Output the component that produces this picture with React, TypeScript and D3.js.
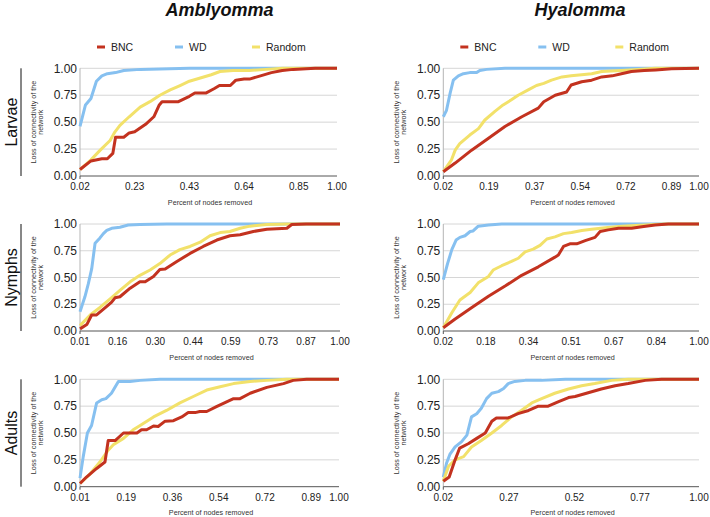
import * as d3 from 'd3';

// colours of the three removal strategies
const BNC_COLOR = '#c3321f';
const WD_COLOR = '#86c0f0';
const RANDOM_COLOR = '#f2e16a';

const SPECIES = ['Amblyomma', 'Hyalomma'];
const STAGES = ['Larvae', 'Nymphs', 'Adults'];
const LEGEND = ['BNC', 'WD', 'Random'];
const Y_TICKS = [0, 0.25, 0.5, 0.75, 1];

// x is the removal step (category index), pairs are [step, loss of connectivity]
type Pt = [number, number];

// Amblyomma larvae
const AMB_LARVAE_N = 48;
const AMB_LARVAE_TICKS = ['0.02', '0.23', '0.43', '0.64', '0.85', '1.00'];
const AMB_LARVAE_BNC: Pt[] = [[0, 0.06], [2, 0.14], [4, 0.16], [5, 0.16], [6, 0.21], [6.5, 0.36], [8, 0.36], [9, 0.4], [10, 0.41], [12, 0.48], [13.5, 0.55], [14.5, 0.66], [15, 0.69], [18, 0.69], [20, 0.74], [21, 0.77], [23, 0.77], [24.5, 0.81], [25.5, 0.84], [27.5, 0.84], [28.5, 0.89], [30, 0.9], [31, 0.9], [33, 0.93], [35, 0.96], [37, 0.98], [39, 0.99], [43, 1], [47, 1]];
const AMB_LARVAE_WD: Pt[] = [[0, 0.46], [1, 0.66], [2, 0.72], [3, 0.88], [4, 0.93], [5, 0.95], [6.5, 0.96], [8, 0.98], [11, 0.99], [20, 1], [47, 1]];
const AMB_LARVAE_RANDOM: Pt[] = [[0, 0.06], [2, 0.15], [3.7, 0.24], [5.5, 0.33], [6.4, 0.41], [7.3, 0.47], [9, 0.55], [11, 0.64], [12.8, 0.69], [14.6, 0.75], [16.5, 0.8], [18.3, 0.84], [20, 0.88], [22, 0.91], [24, 0.94], [25.6, 0.97], [28, 0.98], [31, 0.98], [34, 0.99], [37, 1], [47, 1]];

// Hyalomma larvae
const HYA_LARVAE_N = 57;
const HYA_LARVAE_TICKS = ['0.02', '0.19', '0.37', '0.54', '0.72', '0.89', '1.00'];
const HYA_LARVAE_BNC: Pt[] = [[0, 0.04], [2.6, 0.12], [6.2, 0.24], [9.9, 0.35], [13.5, 0.46], [17.2, 0.55], [20.8, 0.63], [22, 0.69], [24.5, 0.75], [27, 0.78], [28, 0.845], [30.3, 0.875], [32.5, 0.89], [34.7, 0.92], [37, 0.93], [39, 0.95], [41.2, 0.97], [44, 0.98], [46.5, 0.985], [50, 0.995], [56, 1]];
const HYA_LARVAE_WD: Pt[] = [[0, 0.55], [0.7, 0.61], [1.5, 0.77], [2.2, 0.89], [3.3, 0.93], [4.4, 0.95], [5.8, 0.96], [7.3, 0.96], [8, 0.98], [9.5, 0.99], [13.5, 1], [56, 1]];
const HYA_LARVAE_RANDOM: Pt[] = [[0, 0.04], [1.8, 0.15], [2.6, 0.24], [3.6, 0.3], [5.8, 0.38], [7.7, 0.44], [9.1, 0.52], [11.3, 0.6], [13.1, 0.66], [15, 0.71], [16.4, 0.75], [18.6, 0.8], [20.4, 0.84], [22, 0.86], [23.7, 0.89], [26, 0.92], [28, 0.93], [30.3, 0.94], [32.5, 0.95], [34.7, 0.97], [39, 0.98], [42.7, 0.99], [46.4, 1], [56, 1]];

// Amblyomma nymphs
const AMB_NYMPHS_N = 70;
const AMB_NYMPHS_TICKS = ['0.01', '0.16', '0.30', '0.44', '0.59', '0.73', '0.87', '1.00'];
const AMB_NYMPHS_BNC: Pt[] = [[0, 0.02], [1.8, 0.06], [3.1, 0.15], [4.4, 0.15], [7.1, 0.23], [8.4, 0.27], [9.3, 0.31], [10.6, 0.32], [13.3, 0.4], [15.9, 0.46], [17.3, 0.46], [19.5, 0.51], [21.2, 0.575], [22.6, 0.58], [25.7, 0.65], [29.2, 0.725], [32.7, 0.79], [36.3, 0.85], [39.8, 0.89], [42.5, 0.9], [46, 0.93], [49.6, 0.95], [54.9, 0.96], [56.2, 0.995], [60, 1], [69, 1]];
const AMB_NYMPHS_WD: Pt[] = [[0, 0.18], [1.3, 0.32], [2.2, 0.44], [3.1, 0.58], [4, 0.82], [5.3, 0.87], [6.2, 0.91], [7.1, 0.94], [8.4, 0.96], [10.6, 0.97], [12.8, 0.99], [15.9, 0.995], [23, 1], [69, 1]];
const AMB_NYMPHS_RANDOM: Pt[] = [[0, 0.05], [2.7, 0.15], [5.3, 0.22], [8, 0.3], [10.6, 0.38], [13.3, 0.46], [15.9, 0.52], [18.6, 0.57], [21.2, 0.63], [23.9, 0.71], [26.5, 0.76], [29.2, 0.79], [31.9, 0.83], [34.5, 0.89], [37.2, 0.92], [39.8, 0.93], [42.5, 0.96], [45.1, 0.98], [49.6, 0.995], [54.9, 1], [69, 1]];

// Hyalomma nymphs
const HYA_NYMPHS_N = 61;
const HYA_NYMPHS_TICKS = ['0.02', '0.18', '0.34', '0.51', '0.67', '0.84', '1.00'];
const HYA_NYMPHS_BNC: Pt[] = [[0, 0.03], [2.7, 0.11], [6.7, 0.22], [10.6, 0.325], [14.5, 0.42], [18.4, 0.52], [22.3, 0.6], [26.2, 0.69], [27, 0.71], [28.2, 0.79], [29.7, 0.815], [31.3, 0.815], [33.3, 0.845], [35.6, 0.875], [36.8, 0.93], [38.7, 0.945], [41.1, 0.96], [44.2, 0.96], [46.6, 0.975], [49.7, 0.99], [52.8, 1], [60, 1]];
const HYA_NYMPHS_WD: Pt[] = [[0, 0.48], [1, 0.63], [2, 0.76], [3, 0.85], [3.9, 0.875], [5.1, 0.89], [6.3, 0.93], [7, 0.935], [8.2, 0.98], [10.6, 0.99], [13.7, 1], [60, 1]];
const HYA_NYMPHS_RANDOM: Pt[] = [[0, 0.03], [2, 0.17], [3.9, 0.29], [6.3, 0.36], [8.2, 0.45], [10.6, 0.51], [11.7, 0.57], [13.7, 0.61], [16, 0.65], [17.6, 0.68], [19.2, 0.74], [21.1, 0.765], [22.7, 0.8], [24.3, 0.86], [26.2, 0.88], [28.2, 0.91], [30.1, 0.92], [32.5, 0.94], [34.8, 0.95], [38, 0.965], [41.9, 0.98], [47.3, 0.99], [52, 1], [60, 1]];

// Amblyomma adults
const AMB_ADULTS_N = 57;
const AMB_ADULTS_TICKS = ['0.01', '0.19', '0.36', '0.54', '0.72', '0.89', '1.00'];
const AMB_ADULTS_BNC: Pt[] = [[0, 0.03], [1.4, 0.09], [3.6, 0.17], [5.4, 0.23], [6.1, 0.43], [7.6, 0.43], [9.4, 0.5], [12.3, 0.5], [13.3, 0.53], [14.4, 0.53], [15.9, 0.565], [16.9, 0.56], [18.4, 0.61], [20.2, 0.615], [22, 0.65], [23.4, 0.69], [24.9, 0.69], [25.9, 0.7], [27.4, 0.7], [29.5, 0.745], [31.7, 0.79], [33.2, 0.82], [34.6, 0.82], [36.8, 0.87], [40.4, 0.925], [44, 0.96], [46.1, 0.99], [49, 1], [56, 1]];
const AMB_ADULTS_WD: Pt[] = [[0, 0.08], [0.7, 0.28], [1.6, 0.5], [2.5, 0.57], [3.6, 0.78], [4.7, 0.81], [5.6, 0.82], [6.8, 0.87], [8.3, 0.98], [10.8, 0.98], [13, 0.99], [17.3, 1], [56, 1]];
const AMB_ADULTS_RANDOM: Pt[] = [[0, 0.03], [2.2, 0.12], [4.3, 0.23], [6.1, 0.34], [7.2, 0.39], [9.4, 0.45], [11.5, 0.53], [13, 0.57], [15.9, 0.65], [18.7, 0.71], [21.6, 0.78], [24.5, 0.84], [27.4, 0.9], [30.3, 0.93], [33.2, 0.96], [36.8, 0.98], [40.4, 0.99], [44.7, 1], [56, 1]];

// Hyalomma adults
const HYA_ADULTS_N = 40;
const HYA_ADULTS_TICKS = ['0.02', '0.27', '0.52', '0.77', '1.00'];
const HYA_ADULTS_BNC: Pt[] = [[0, 0.05], [0.9, 0.09], [1.8, 0.25], [2.5, 0.36], [3.8, 0.4], [5.1, 0.45], [6.4, 0.5], [7.4, 0.61], [8.1, 0.64], [9.9, 0.64], [11.4, 0.68], [13, 0.71], [14.5, 0.75], [16, 0.75], [17.5, 0.79], [19.1, 0.83], [20.1, 0.84], [22.1, 0.875], [24.1, 0.91], [26.2, 0.94], [28.2, 0.96], [30.8, 0.99], [33.3, 1], [39, 1]];
const HYA_ADULTS_WD: Pt[] = [[0, 0.09], [0.5, 0.22], [1, 0.3], [1.8, 0.37], [2.8, 0.42], [3.6, 0.48], [4.3, 0.65], [5.1, 0.68], [5.8, 0.73], [6.6, 0.82], [7.4, 0.87], [8.4, 0.885], [9.2, 0.915], [9.9, 0.96], [10.9, 0.98], [12.5, 0.99], [15, 0.99], [18.6, 1], [39, 1]];
const HYA_ADULTS_RANDOM: Pt[] = [[0, 0.05], [0.8, 0.19], [1.8, 0.25], [3.1, 0.28], [4.3, 0.37], [5.8, 0.43], [7.4, 0.5], [8.9, 0.57], [10.4, 0.65], [11.9, 0.71], [13.5, 0.78], [15, 0.82], [17, 0.87], [19.1, 0.91], [21.1, 0.94], [23.1, 0.96], [25.7, 0.99], [28.2, 1], [39, 1]];

interface Panel {
  col: number;
  row: number;
  n: number;
  ticks: string[];
  bnc: Pt[];
  wd: Pt[];
  random: Pt[];
}

const PANELS: Panel[] = [
  { col: 0, row: 0, n: AMB_LARVAE_N, ticks: AMB_LARVAE_TICKS, bnc: AMB_LARVAE_BNC, wd: AMB_LARVAE_WD, random: AMB_LARVAE_RANDOM },
  { col: 1, row: 0, n: HYA_LARVAE_N, ticks: HYA_LARVAE_TICKS, bnc: HYA_LARVAE_BNC, wd: HYA_LARVAE_WD, random: HYA_LARVAE_RANDOM },
  { col: 0, row: 1, n: AMB_NYMPHS_N, ticks: AMB_NYMPHS_TICKS, bnc: AMB_NYMPHS_BNC, wd: AMB_NYMPHS_WD, random: AMB_NYMPHS_RANDOM },
  { col: 1, row: 1, n: HYA_NYMPHS_N, ticks: HYA_NYMPHS_TICKS, bnc: HYA_NYMPHS_BNC, wd: HYA_NYMPHS_WD, random: HYA_NYMPHS_RANDOM },
  { col: 0, row: 2, n: AMB_ADULTS_N, ticks: AMB_ADULTS_TICKS, bnc: AMB_ADULTS_BNC, wd: AMB_ADULTS_WD, random: AMB_ADULTS_RANDOM },
  { col: 1, row: 2, n: HYA_ADULTS_N, ticks: HYA_ADULTS_TICKS, bnc: HYA_ADULTS_BNC, wd: HYA_ADULTS_WD, random: HYA_ADULTS_RANDOM },
];

// layout
const W = 710;
const H = 517;
const COL_LEFT = [80, 443.3];
const COL_RIGHT = [[337, 699], [340, 699], [339, 699]];
const ROW_TOP = [68.3, 224, 379.3];
const ROW_BOTTOM = [176, 331, 486.7];
const TITLE_X = [219.5, 580];
const FONT = '"Liberation Sans", Arial, Helvetica, sans-serif';

function PanelChart({ p }: { p: Panel }) {
  const left = COL_LEFT[p.col];
  const right = COL_RIGHT[p.row][p.col];
  const top = ROW_TOP[p.row];
  const bottom = ROW_BOTTOM[p.row];
  const x = d3.scaleLinear([0, p.n - 1], [left, right]);
  const y = d3.scaleLinear([0, 1], [bottom, top]);
  const line = d3.line<Pt>().x(d => x(d[0])).y(d => y(d[1]));
  const tickIdx = p.ticks.map((_, i) => (i === p.ticks.length - 1 ? p.n - 1 : i * 10));
  const midY = (top + bottom) / 2;
  const series: [Pt[], string][] = [[p.wd, WD_COLOR], [p.random, RANDOM_COLOR], [p.bnc, BNC_COLOR]];

  return (
    <g>
      {Y_TICKS.filter(t => t > 0).map(t => (
        <line key={t} x1={left} x2={right} y1={y(t)} y2={y(t)} stroke="#d6d6d6" strokeWidth={1} />
      ))}
      <line x1={left} x2={left} y1={top} y2={bottom} stroke="#b5b5b5" strokeWidth={1} />
      {Y_TICKS.map(t => (
        <text key={t} x={left - 3} y={y(t)} dy="0.35em" textAnchor="end" fontSize={12} fill="#222">
          {t.toFixed(2)}
        </text>
      ))}
      {p.ticks.map((lab, i) => (
        <text key={lab + i} x={x(tickIdx[i])} y={bottom + 14} textAnchor="middle" fontSize={10} fill="#222">
          {lab}
        </text>
      ))}
      <text x={(left + right) / 2 + 1.5} y={bottom + 28.5} textAnchor="middle" fontSize={7.2} fill="#333">
        Percent of nodes removed
      </text>
      <text transform={`translate(${left - 44.5},${midY}) rotate(-90)`} textAnchor="middle" fontSize={7.2} fill="#333">
        Loss of connectivity of the
      </text>
      <text transform={`translate(${left - 37.5},${midY}) rotate(-90)`} textAnchor="middle" fontSize={7.2} fill="#333">
        network
      </text>
      {series.map(([pts, color]) => (
        <path key={color} d={line(pts) ?? ''} fill="none" stroke={color} strokeWidth={3}
          strokeLinejoin="round" strokeLinecap="butt" />
      ))}
      <line x1={left} x2={right} y1={bottom} y2={bottom} stroke="#555" strokeWidth={1} />
      <line x1={left} x2={left} y1={bottom} y2={bottom + 3} stroke="#555" strokeWidth={1} />
    </g>
  );
}

export default function App() {
  const legendColors = [BNC_COLOR, WD_COLOR, RANDOM_COLOR];
  const legendOffsets = [17, 95, 172];
  return (
    <div style={{ position: 'absolute', left: 0, top: 0 }}>
      <svg width={W} height={H} style={{ display: 'block', background: '#fff', fontFamily: FONT }}>
        {SPECIES.map((s, c) => (
          <text key={s} x={TITLE_X[c]} y={16} textAnchor="middle" fontSize={18} fontWeight="bold"
            fontStyle="italic" fill="#111">{s}</text>
        ))}
        {SPECIES.map((s, c) => (
          <g key={'legend' + s}>
            {LEGEND.map((lab, i) => {
              const lx = COL_LEFT[c] + legendOffsets[i];
              return (
                <g key={lab}>
                  <line x1={lx} x2={lx + 8} y1={47} y2={47} stroke={legendColors[i]} strokeWidth={3} />
                  <text x={lx + 14} y={47} dy="0.35em" fontSize={10.5} fill="#222">{lab}</text>
                </g>
              );
            })}
          </g>
        ))}
        {STAGES.map((st, r) => {
          const mid = (ROW_TOP[r] + ROW_BOTTOM[r]) / 2;
          return (
            <g key={st}>
              <text transform={`translate(17,${mid}) rotate(-90)`} textAnchor="middle" fontSize={16} fill="#111">{st}</text>
              <line x1={21} x2={21} y1={ROW_TOP[r]} y2={ROW_BOTTOM[r]} stroke="#111" strokeWidth={1} />
            </g>
          );
        })}
        {PANELS.map(p => <PanelChart key={`${p.col}-${p.row}`} p={p} />)}
      </svg>
    </div>
  );
}
